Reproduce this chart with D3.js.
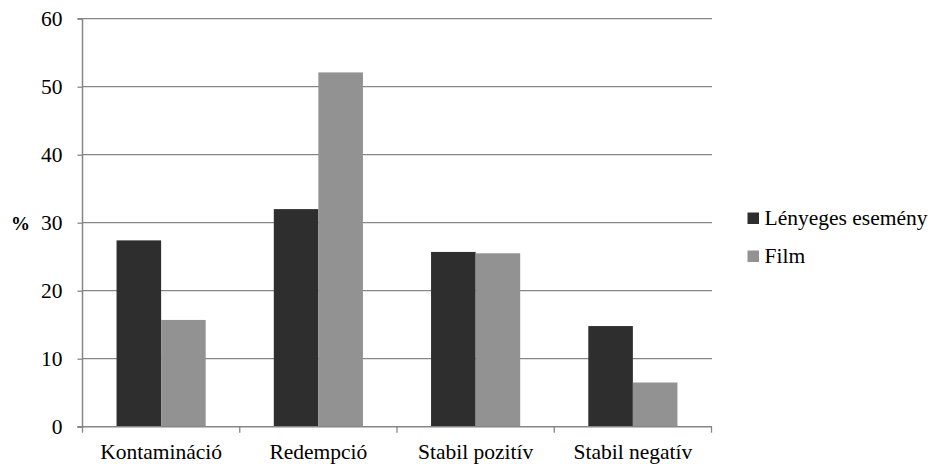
<!DOCTYPE html>
<html lang="hu">
<head>
  <meta charset="UTF-8">
  <title>Chart</title>
  <script src="https://cdnjs.cloudflare.com/ajax/libs/d3/7.8.5/d3.min.js"></script>
  <style>
    body { margin: 0; padding: 0; background: #fff; }
    svg { display: block; }
  </style>
</head>
<body>
  <svg id="chart" width="934" height="464" font-family="'Liberation Serif', 'DejaVu Serif', 'Times New Roman', Times, serif"></svg>
  <script>
    var categories = ['Kontamináció', 'Redempció', 'Stabil pozitív', 'Stabil negatív'];
    var seriesNames = ['Lényeges esemény', 'Film'];
    var lenyeges = [27.4, 32.0, 25.7, 14.8];
    var film = [15.7, 52.1, 25.5, 6.5];
    var yTicks = [0, 10, 20, 30, 40, 50, 60];
    var colors = ['#2e2e2e', '#929292'];

    var svg = d3.select('#chart');
    var mLeft = 82.5, mRight = 711.5, mTop = 18.7, mBottom = 426.7;
    var fs = 21.5;

    var x0 = d3.scaleBand().domain(categories).range([mLeft, mRight]).padding(0);
    var x1 = d3.scaleBand().domain(seriesNames).range([0, x0.bandwidth()])
      .paddingInner(0).paddingOuter(0.764);
    var y = d3.scaleLinear().domain([0, 60]).range([mBottom, mTop]);

    // grid lines
    svg.append('g').selectAll('line')
      .data(yTicks.filter(function(d) { return d > 0; })).enter().append('line')
      .attr('x1', mLeft).attr('x2', mRight + 0.5)
      .attr('y1', function(d) { return y(d); }).attr('y2', function(d) { return y(d); })
      .attr('stroke', '#868686').attr('stroke-width', 1.3);

    var data = categories.map(function(c, i) {
      return { cat: c, vals: [lenyeges[i], film[i]] };
    });

    var groups = svg.append('g').selectAll('g')
      .data(data).enter().append('g')
      .attr('transform', function(d) { return 'translate(' + x0(d.cat) + ',0)'; });

    groups.selectAll('rect')
      .data(function(d) {
        return d.vals.map(function(v, j) { return { name: seriesNames[j], v: v, j: j }; });
      }).enter().append('rect')
      .attr('x', function(d) { return x1(d.name); })
      .attr('width', x1.bandwidth())
      .attr('y', function(d) { return y(d.v); })
      .attr('height', function(d) { return mBottom - y(d.v); })
      .attr('fill', function(d) { return colors[d.j]; });

    // y axis
    var yAxis = d3.axisLeft(y).tickValues(yTicks).tickSize(5).tickPadding(15)
      .tickFormat(d3.format('d'));
    var gy = svg.append('g').attr('transform', 'translate(' + mLeft + ',0)').call(yAxis);
    gy.attr('font-family', null).attr('font-size', fs);
    gy.select('.domain').attr('stroke', '#868686').attr('stroke-width', 1.5)
      .attr('d', 'M-5,' + mTop + 'H0V' + mBottom + 'H-5');
    gy.selectAll('.tick line').attr('stroke', '#868686').attr('stroke-width', 1.3);
    gy.selectAll('.tick text').attr('fill', '#000');

    // x axis
    var gx = svg.append('g').attr('transform', 'translate(0,' + mBottom + ')');
    gx.append('line').attr('x1', mLeft - 5).attr('x2', mRight + 0.5)
      .attr('y1', 0).attr('y2', 0).attr('stroke', '#868686').attr('stroke-width', 1.5);
    var bounds = categories.map(function(c) { return x0(c); }).concat([mRight]);
    gx.selectAll('line.tk').data(bounds).enter().append('line')
      .attr('class', 'tk')
      .attr('x1', function(d) { return d; }).attr('x2', function(d) { return d; })
      .attr('y1', 0).attr('y2', 6)
      .attr('stroke', '#868686').attr('stroke-width', 1.3);
    gx.selectAll('text').data(categories).enter().append('text')
      .attr('x', function(d) { return x0(d) + x0.bandwidth() / 2; })
      .attr('y', 32.8)
      .attr('text-anchor', 'middle')
      .attr('font-size', fs)
      .text(function(d) { return d; });

    // y label
    svg.append('text').attr('x', 11).attr('y', 230)
      .attr('font-size', 19).attr('font-weight', 'bold').text('%');

    // legend
    var legend = svg.append('g').selectAll('g')
      .data(seriesNames).enter().append('g')
      .attr('transform', function(d, i) { return 'translate(747.5,' + (212.5 + i * 38) + ')'; });
    legend.append('rect').attr('width', 11.5).attr('height', 11.5)
      .attr('fill', function(d, i) { return colors[i]; });
    legend.append('text').attr('x', 17).attr('y', 12.7)
      .attr('font-size', fs).text(function(d) { return d; });
  </script>
</body>
</html>
